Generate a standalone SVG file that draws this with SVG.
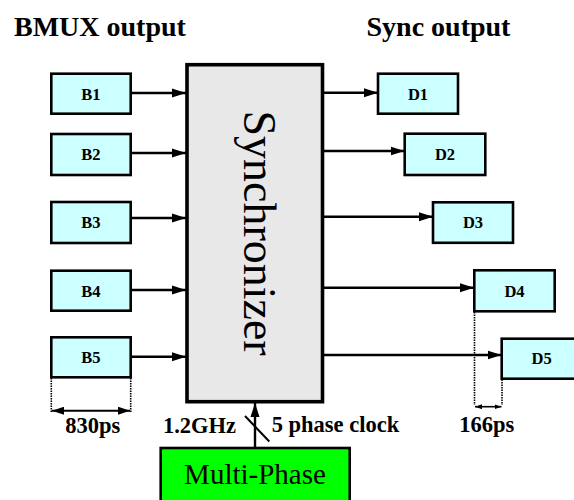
<svg xmlns="http://www.w3.org/2000/svg" width="574" height="500" viewBox="0 0 574 500">
<style>
.title{font-family:"Liberation Serif",serif;font-weight:bold;font-size:28px;fill:#000}
.lbl{font-family:"Liberation Serif",serif;font-weight:bold;font-size:22.5px;fill:#000}
.bl{font-family:"Liberation Serif",serif;font-weight:bold;font-size:16.5px;fill:#000;text-anchor:middle}
.sb{fill:#ccffff;stroke:#000;stroke-width:2.6}
.ar{stroke:#000;stroke-width:2.4;fill:none;marker-end:url(#ah)}
.dot{stroke:#000;stroke-width:1.6;stroke-dasharray:1.5 1;fill:none}
</style>
<defs>
<marker id="ah" markerUnits="userSpaceOnUse" markerWidth="14" markerHeight="10" refX="14" refY="5" orient="auto"><path d="M0,0.5 L14,5 L0,9.5 z" fill="#000"/></marker>
<marker id="dm" markerUnits="userSpaceOnUse" markerWidth="12" markerHeight="8" refX="12" refY="4" orient="auto-start-reverse"><path d="M0,0 L12,4 L0,8 z" fill="#000"/></marker>
<marker id="ds" markerUnits="userSpaceOnUse" markerWidth="7" markerHeight="5" refX="7" refY="2.5" orient="auto-start-reverse"><path d="M0,0 L7,2.5 L0,5 z" fill="#000"/></marker>
</defs>
<rect width="574" height="500" fill="#fff"/>
<text class="title" x="14" y="36">BMUX output</text>
<text class="title" x="366.5" y="36">Sync output</text>

<g id="synchronizer">
<rect x="187" y="64.7" width="135.5" height="337" fill="#e8e8e8" stroke="#000" stroke-width="3.6"/>
<text transform="translate(244,233) rotate(90)" text-anchor="middle" style="font-family:'Liberation Serif',serif;font-size:46px">Synchronizer</text>
</g>
<g id="B1"><rect class="sb" x="51.3" y="73.7" width="79.4" height="40"/><text class="bl" x="91" y="99.5">B1</text></g>
<g id="B2"><rect class="sb" x="51.3" y="134" width="79.4" height="41"/><text class="bl" x="91" y="160">B2</text></g>
<g id="B3"><rect class="sb" x="51.3" y="202" width="79.4" height="41"/><text class="bl" x="91" y="228">B3</text></g>
<g id="B4"><rect class="sb" x="51.3" y="270.7" width="79.4" height="40"/><text class="bl" x="91" y="296.5">B4</text></g>
<g id="B5"><rect class="sb" x="51.3" y="337.3" width="79.4" height="40"/><text class="bl" x="91" y="363">B5</text></g>
<g id="D1"><rect class="sb" x="378" y="73.7" width="80" height="40"/><text class="bl" x="418" y="99.5">D1</text></g>
<g id="D2"><rect class="sb" x="404.7" y="133.7" width="80.6" height="41.3"/><text class="bl" x="445" y="160">D2</text></g>
<g id="D3"><rect class="sb" x="433" y="202.3" width="80" height="40.5"/><text class="bl" x="473" y="228">D3</text></g>
<g id="D4"><rect class="sb" x="474.3" y="270.3" width="80.4" height="41"/><text class="bl" x="514.5" y="296.5">D4</text></g>
<g id="D5"><rect class="sb" x="501.7" y="338.7" width="80" height="40"/><text class="bl" x="541.7" y="364">D5</text></g>
<g id="multiphase">
<rect x="160.7" y="448" width="189" height="60" fill="#00ff00" stroke="#000" stroke-width="2.6"/>
<text x="255" y="483.5" text-anchor="middle" style="font-family:'Liberation Serif',serif;font-size:29px">Multi-Phase</text>
</g>

<g id="connectors">
<line class="ar" x1="131" y1="93" x2="186" y2="93"/>
<line class="ar" x1="131" y1="153" x2="186" y2="153"/>
<line class="ar" x1="131" y1="218" x2="186" y2="218"/>
<line class="ar" x1="131" y1="290" x2="186" y2="290"/>
<line class="ar" x1="131" y1="356.7" x2="186" y2="356.7"/>
<line class="ar" x1="323" y1="92.7" x2="378" y2="92.7"/>
<line class="ar" x1="323" y1="151" x2="404.5" y2="151"/>
<line class="ar" x1="323" y1="216.7" x2="433" y2="216.7"/>
<line class="ar" x1="323" y1="287.7" x2="474" y2="287.7"/>
<line class="ar" x1="323" y1="355" x2="501.5" y2="355"/>
<line class="ar" x1="255" y1="447" x2="255" y2="403"/>
<line x1="245" y1="416" x2="269.3" y2="441.5" stroke="#000" stroke-width="2"/>
<line class="dot" x1="51.3" y1="378" x2="51.3" y2="412"/>
<line class="dot" x1="130.7" y1="378" x2="130.7" y2="412"/>
<line x1="52" y1="410.7" x2="130" y2="410.7" stroke="#000" stroke-width="2" marker-start="url(#dm)" marker-end="url(#dm)"/>
<line class="dot" x1="474.5" y1="312" x2="474.5" y2="405"/>
<line class="dot" x1="502" y1="379.5" x2="502" y2="405"/>
<line x1="475" y1="406.7" x2="501.5" y2="406.7" stroke="#000" stroke-width="1.6" marker-start="url(#ds)" marker-end="url(#ds)"/>
</g>
<text class="lbl" x="92.8" y="433" text-anchor="middle">830ps</text>
<text class="lbl" x="236" y="433" text-anchor="end">1.2GHz</text>
<text class="lbl" x="271.7" y="432">5 phase clock</text>
<text class="lbl" x="486.7" y="432" text-anchor="middle">166ps</text>
</svg>
